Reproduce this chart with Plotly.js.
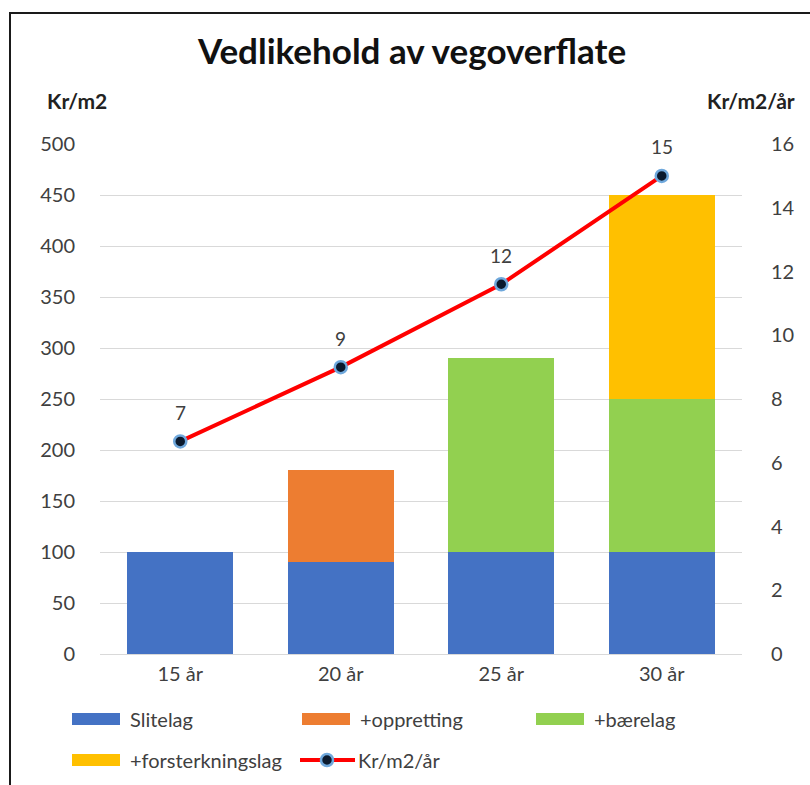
<!DOCTYPE html>
<html><head><meta charset="utf-8">
<script src="https://cdn.plot.ly/plotly-3.0.1.min.js"></script>
<style>
html,body{margin:0;padding:0;background:#fff;overflow:hidden;}
#chart{width:810px;height:785px;}
#frame{position:absolute;left:9px;top:12px;width:810px;height:790px;border-left:2px solid #1a1a1a;border-top:2px solid #1a1a1a;pointer-events:none;}
</style></head><body>
<div id="chart"></div><div id="frame"></div>
<script>
// ---- data ----
const categories = ['15 år', '20 år', '25 år', '30 år'];
const slitelag = [100, 90, 100, 100];
const oppretting = [0, 90, 0, 0];
const baerelag = [0, 0, 190, 150];
const forsterkningslag = [0, 0, 0, 200];
const krPerM2PerAar = [6.67, 9, 11.6, 15];
const seriesNames = ['Slitelag', '+oppretting', '+bærelag', '+forsterkningslag', 'Kr/m2/år'];
const seriesColors = ['#4472C4', '#ED7D31', '#92D050', '#FFC000', '#FF0000'];
const leftTicks = [0, 50, 100, 150, 200, 250, 300, 350, 400, 450, 500];
const rightTicks = [0, 2, 4, 6, 8, 10, 12, 14, 16];
const chartTitle = 'Vedlikehold av vegoverflate';
const leftAxisTitle = 'Kr/m2';
const rightAxisTitle = 'Kr/m2/år';

// ---- styling ----
const FONT = 'Lato, "Open Sans", sans-serif';
const TXT = '#404040';
const W = 810, H = 785;
const M = {l: 100, r: 68, t: 144, b: 131};
const PW = W - M.l - M.r, PH = H - M.t - M.b;
const px = x => (x - M.l) / PW;
const py = y => (H - M.b - y) / PH;

const barSeries = [slitelag, oppretting, baerelag, forsterkningslag];
const traces = barSeries.map((vals, i) => ({
  type: 'bar', x: categories, y: vals, name: seriesNames[i],
  marker: {color: seriesColors[i], line: {width: 0}},
  hoverinfo: 'skip', showlegend: false
}));
traces.push({
  type: 'scatter', mode: 'lines+markers', x: categories, y: krPerM2PerAar,
  yaxis: 'y2', name: seriesNames[4], showlegend: false,
  line: {color: seriesColors[4], width: 4},
  marker: {size: 12, color: '#0b1a2e', line: {color: '#6fa8dc', width: 2.5}},
  cliponaxis: false
});

const shapes = [], annotations = [];
// data labels above line points
krPerM2PerAar.forEach((v, i) => {
  annotations.push({xref: 'x', yref: 'y2', x: categories[i], y: v, yshift: 29,
    xanchor: 'center', yanchor: 'middle', showarrow: false, text: String(Math.round(v)),
    font: {family: FONT, size: 19, color: TXT}});
});

// custom legend (Excel-style wide swatches)
const legendItems = [
  {i: 0, x: 72, y: 719}, {i: 1, x: 302, y: 719}, {i: 2, x: 536, y: 719},
  {i: 3, x: 72, y: 760}, {i: 4, x: 300, y: 760}
];
legendItems.forEach(it => {
  if (it.i < 4) {
    shapes.push({type: 'rect', xref: 'paper', yref: 'paper',
      x0: px(it.x), x1: px(it.x + 48), y0: py(it.y + 6), y1: py(it.y - 6),
      fillcolor: seriesColors[it.i], line: {width: 0}});
  } else {
    shapes.push({type: 'line', xref: 'paper', yref: 'paper',
      x0: px(it.x), x1: px(it.x + 55), y0: py(it.y), y1: py(it.y),
      line: {color: seriesColors[4], width: 4}});
    shapes.push({type: 'circle', xref: 'paper', yref: 'paper',
      x0: px(it.x + 21), x1: px(it.x + 33), y0: py(it.y + 6), y1: py(it.y - 6),
      fillcolor: '#0b1a2e', line: {color: '#6fa8dc', width: 2.5}});
  }
  annotations.push({xref: 'paper', yref: 'paper', x: px(it.x + 56), y: py(it.y),
    xanchor: 'left', yanchor: 'middle', showarrow: false, text: seriesNames[it.i],
    font: {family: FONT, size: 20, color: TXT}});
});
annotations.push({xref: 'paper', yref: 'paper', x: px(77), y: py(100), xanchor: 'center', yanchor: 'middle',
  showarrow: false, text: '<b>' + leftAxisTitle + '</b>', font: {family: FONT, size: 21, color: '#222'}});
annotations.push({xref: 'paper', yref: 'paper', x: px(751), y: py(100), xanchor: 'center', yanchor: 'middle',
  showarrow: false, text: '<b>' + rightAxisTitle + '</b>', font: {family: FONT, size: 21, color: '#222'}});

const layout = {
  width: W, height: H, margin: M, barmode: 'stack', bargap: 0.34,
  paper_bgcolor: '#fff', plot_bgcolor: '#fff', showlegend: false,
  font: {family: FONT, color: TXT},
  title: {text: '<b>' + chartTitle + '</b>', font: {family: FONT, size: 35, color: '#111'},
    xref: 'container', yref: 'container', x: 412 / W, y: 1 - 52 / H, xanchor: 'center', yanchor: 'middle'},
  xaxis: {type: 'category', range: [-0.5, 3.5], showgrid: false, showline: false, zeroline: false,
    ticks: '', tickfont: {family: FONT, size: 20, color: TXT}, ticklabelstandoff: 6, fixedrange: true},
  yaxis: {range: [0, 500], tickvals: leftTicks, showgrid: true, gridcolor: '#d9d9d9', gridwidth: 1,
    zeroline: true, zerolinecolor: '#d9d9d9', zerolinewidth: 1, showline: false, ticks: '',
    tickfont: {family: FONT, size: 20, color: TXT}, ticklabelstandoff: 24, fixedrange: true},
  yaxis2: {range: [0, 16], tickvals: rightTicks, overlaying: 'y', side: 'right', showgrid: false,
    zeroline: false, showline: false, ticks: '', tickfont: {family: FONT, size: 20, color: TXT},
    ticklabelstandoff: 28, fixedrange: true},
  shapes: shapes, annotations: annotations
};
Plotly.newPlot('chart', traces, layout, {displayModeBar: false, staticPlot: true});
</script></body></html>
